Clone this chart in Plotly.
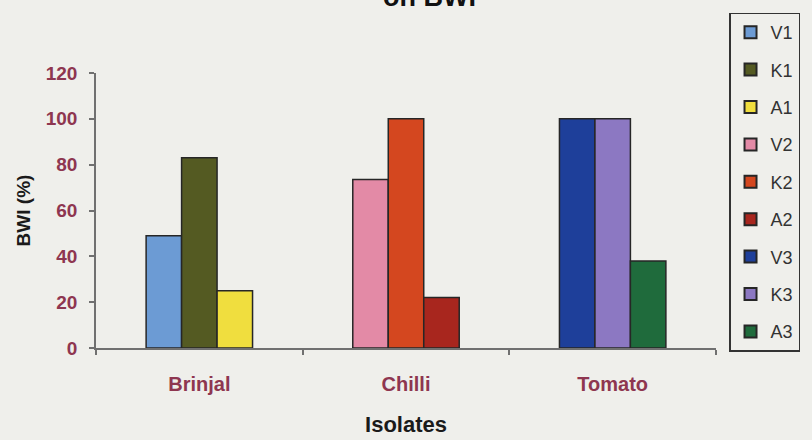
import plotly.graph_objects as go

# Bacterial wilt incidence per isolate, grouped by host crop
crops = ["Brinjal", "Chilli", "Tomato"]
series_names = ["V1", "K1", "A1", "V2", "K2", "A2", "V3", "K3", "A3"]
series_crop = ["Brinjal", "Brinjal", "Brinjal",
               "Chilli", "Chilli", "Chilli",
               "Tomato", "Tomato", "Tomato"]
series_values = [49, 83, 25, 73.5, 100, 22, 100, 100, 38]
series_slot = ["V", "K", "A", "V", "K", "A", "V", "K", "A"]
series_colors = ["#6C9BD4", "#545A22", "#F0DE3E",
                 "#E38AA6", "#D4471F", "#A8261E",
                 "#1E3F9A", "#8C78C2", "#1F6B3C"]
y_ticks = [0, 20, 40, 60, 80, 100, 120]

BG = "#EFEFEB"
MAROON = "#8E3650"
AXIS = "#707070"
FONT = "Liberation Sans"

fig = go.Figure()
for name, crop, val, slot, col in zip(series_names, series_crop, series_values,
                                      series_slot, series_colors):
    fig.add_trace(go.Bar(
        name=name,
        x=[crop],
        y=[val],
        offsetgroup=slot,
        legendgroup=name,
        marker=dict(color=col, line=dict(color="#262626", width=1.5)),
    ))

fig.update_layout(
    width=812,
    height=440,
    autosize=False,
    margin=dict(l=96, r=92, t=70, b=92),
    paper_bgcolor=BG,
    plot_bgcolor=BG,
    barmode="group",
    bargap=0.485,
    bargroupgap=0,
    font=dict(family=FONT, color="#222222"),
    showlegend=True,
    legend=dict(
        x=1.021, y=1.22, xanchor="left", yanchor="top",
        bordercolor="#333333", borderwidth=1.5, bgcolor=BG,
        font=dict(family=FONT, size=18, color="#333333"),
        tracegroupgap=11,
        maxheight=440,
        itemsizing="constant",
    ),
    xaxis=dict(
        categoryorder="array",
        categoryarray=crops,
        automargin=False,
        showline=True, linecolor=AXIS, linewidth=1.5,
        ticks="outside", tickson="boundaries", ticklen=5,
        tickcolor=AXIS, tickwidth=1.5,
        ticklabelstandoff=17,
        tickfont=dict(family=FONT, size=20, color=MAROON, weight="bold"),
        showgrid=False, zeroline=False,
        title=dict(text="<b>Isolates</b>", standoff=23,
                   font=dict(family=FONT, size=22, color="#1A1A1A")),
    ),
    yaxis=dict(
        range=[0, 120],
        tickvals=y_ticks,
        automargin=False,
        showline=True, linecolor=AXIS, linewidth=1.5,
        ticks="outside", ticklen=5, tickcolor=AXIS, tickwidth=1.5,
        ticklabelstandoff=8,
        tickfont=dict(family=FONT, size=19, color=MAROON, weight="bold"),
        showgrid=False, zeroline=False,
        title=dict(text="<b>BWI (%)</b>", standoff=10,
                   font=dict(family=FONT, size=19, color="#1A1A1A")),
    ),
    annotations=[dict(
        text="<b>on BWI</b>",
        xref="paper", yref="paper",
        x=0.5385, y=1.216, xanchor="center", yanchor="bottom",
        showarrow=False,
        font=dict(family=FONT, size=27, color="#111111"),
    )],
)

fig.write_html("out.html")
